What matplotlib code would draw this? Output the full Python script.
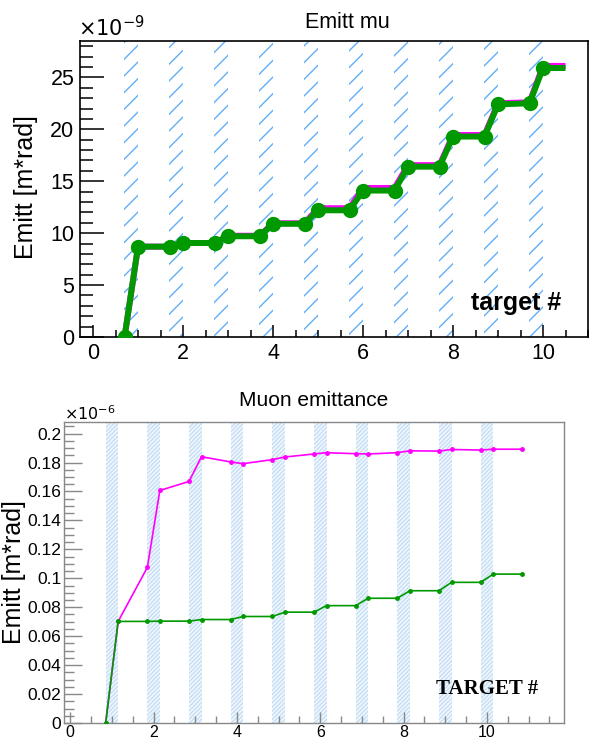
import matplotlib
matplotlib.use("Agg")
import matplotlib.pyplot as plt
from matplotlib.ticker import MultipleLocator

plt.rcParams['font.family'] = ['Liberation Sans', 'DejaVu Sans']
plt.rcParams['hatch.linewidth'] = 1.0

# 靶的编号（阴影带）
targets = [1, 2, 3, 4, 5, 6, 7, 8, 9, 10]

# 上图：Emitt mu，单位 1e-9 m*rad
top_x = [0.7, 1.0, 1.7, 2.0, 2.7, 3.0, 3.7, 4.0, 4.7, 5.0, 5.7,
         6.0, 6.7, 7.0, 7.7, 8.0, 8.7, 9.0, 9.7, 10.0, 10.5]
top_green = [0, 8.7, 8.7, 9.05, 9.05, 9.7, 9.7, 10.9, 10.9, 12.2, 12.2,
             14.1, 14.1, 16.4, 16.4, 19.3, 19.3, 22.4, 22.5, 25.9, 25.9]
top_magenta = [0, 8.7, 8.7, 9.05, 9.05, 9.75, 9.75, 10.95, 10.95, 12.4, 12.4,
               14.35, 14.35, 16.55, 16.55, 19.45, 19.45, 22.5, 22.6, 26.1, 26.1]

# 下图：Muon emittance，单位 1e-6 m*rad
bot_x = [0.85, 1.15, 1.85, 2.15, 2.85, 3.15, 3.85, 4.15, 4.85, 5.15, 5.85,
         6.15, 6.85, 7.15, 7.85, 8.15, 8.85, 9.15, 9.85, 10.15, 10.85]
bot_green = [0, 0.0702, 0.0702, 0.0704, 0.0704, 0.0715, 0.0715, 0.0736, 0.0736,
             0.0766, 0.0766, 0.0811, 0.0811, 0.0862, 0.0862, 0.0914, 0.0914,
             0.0972, 0.0972, 0.1029, 0.1029]
bot_magenta = [0, 0.0702, 0.1075, 0.1607, 0.1669, 0.1840, 0.1804, 0.1792, 0.1820,
               0.1838, 0.1859, 0.1868, 0.1861, 0.1859, 0.1868, 0.1881, 0.1879,
               0.1890, 0.1886, 0.1892, 0.1892]

W, H = 591, 744
fig = plt.figure(figsize=(W / 100, H / 100), dpi=100)
fig.patch.set_facecolor('white')


def px_axes(left, top, right, bottom):
    """像素坐标 -> 画布比例坐标"""
    return fig.add_axes([left / W, 1 - bottom / H, (right - left) / W, (bottom - top) / H])


# ---------------- 上图 ----------------
ax1 = px_axes(80, 41, 588, 337)
for t in targets:
    ax1.axvspan(t - 0.32, t - 0.01, facecolor='none', edgecolor='#62aef7',
                hatch='//', linewidth=0, zorder=1)
ax1.plot(top_x, top_magenta, color='#ff00ff', linewidth=4.3, zorder=2,
         solid_capstyle='butt')
ax1.plot(top_x, top_green, color='#009900', linewidth=4.3, marker='o',
         markersize=10, markevery=slice(0, -1), zorder=3, solid_capstyle='butt')

ax1.set_xlim(-0.29, 11.0)
ax1.set_ylim(0, 28.5)
ax1.xaxis.set_major_locator(MultipleLocator(2))
ax1.xaxis.set_minor_locator(MultipleLocator(0.5))
ax1.yaxis.set_major_locator(MultipleLocator(5))
ax1.yaxis.set_minor_locator(MultipleLocator(1))
ax1.tick_params(which='both', direction='in', top=False, right=False,
                colors='black', labelsize=15.5, width=1.1)
ax1.tick_params(axis='y', which='major', length=17, pad=4)
ax1.tick_params(axis='y', which='minor', length=9)
ax1.tick_params(axis='x', which='major', length=9, pad=4)
ax1.tick_params(axis='x', which='minor', length=5)
for s in ax1.spines.values():
    s.set_color('black')
    s.set_linewidth(1.2)

fig.text(347 / W, 1 - 22 / H, 'Emitt mu', fontsize=15.5, ha='center', va='center')
fig.text(78 / W, 1 - 36 / H, r'$\times10^{-9}$', fontsize=15, ha='left', va='baseline')
fig.text(26 / W, 1 - 187 / H, 'Emitt [m*rad]', fontsize=18, rotation=90,
         ha='center', va='center')
ax1.text(0.858, 0.115, 'target #', transform=ax1.transAxes, fontsize=18,
         fontweight='bold', ha='center', va='center')

# ---------------- 下图 ----------------
ax2 = px_axes(64, 422, 564, 723)
for t in targets:
    ax2.axvspan(t - 0.15, t + 0.15, facecolor='#f3f8fd', edgecolor='#c4def6',
                hatch='////////', linewidth=0, zorder=1)
ax2.plot(bot_x, bot_magenta, color='#ff00ff', linewidth=1.2, marker='o',
         markersize=2.5, zorder=2)
ax2.plot(bot_x, bot_green, color='#009900', linewidth=1.2, marker='o',
         markersize=2.5, zorder=3)

ax2.set_xlim(-0.15, 11.85)
ax2.set_ylim(0, 0.208)
ax2.xaxis.set_major_locator(MultipleLocator(2))
ax2.xaxis.set_minor_locator(MultipleLocator(0.5))
ax2.yaxis.set_major_locator(MultipleLocator(0.02))
ax2.yaxis.set_minor_locator(MultipleLocator(0.005))
ax2.yaxis.set_major_formatter(matplotlib.ticker.FuncFormatter(lambda v, p: f'{v:g}'))
ax2.tick_params(which='both', direction='in', top=False, right=False,
                colors='#888888', labelcolor='black', labelsize=12.5, width=1.0)
ax2.tick_params(axis='y', which='major', length=13, pad=2)
ax2.tick_params(axis='y', which='minor', length=7)
ax2.tick_params(axis='x', which='major', length=8, pad=1.5, labelsize=11.5)
ax2.tick_params(axis='x', which='minor', length=5)
for s in ax2.spines.values():
    s.set_color('#888888')
    s.set_linewidth(1.0)

fig.text(314 / W, 1 - 401 / H, 'Muon emittance', fontsize=15, ha='center', va='center')
fig.text(64 / W, 1 - 420 / H, r'$\times10^{-6}$', fontsize=11.5, ha='left', va='baseline')
fig.text(14 / W, 1 - 572 / H, 'Emitt [m*rad]', fontsize=18, rotation=90,
         ha='center', va='center')
ax2.text(0.847, 0.112, 'TARGET #', transform=ax2.transAxes, fontsize=15,
         fontweight='bold', family=['Liberation Serif', 'DejaVu Serif'],
         ha='center', va='center')

fig.savefig('out.png', dpi=100, facecolor='white')
